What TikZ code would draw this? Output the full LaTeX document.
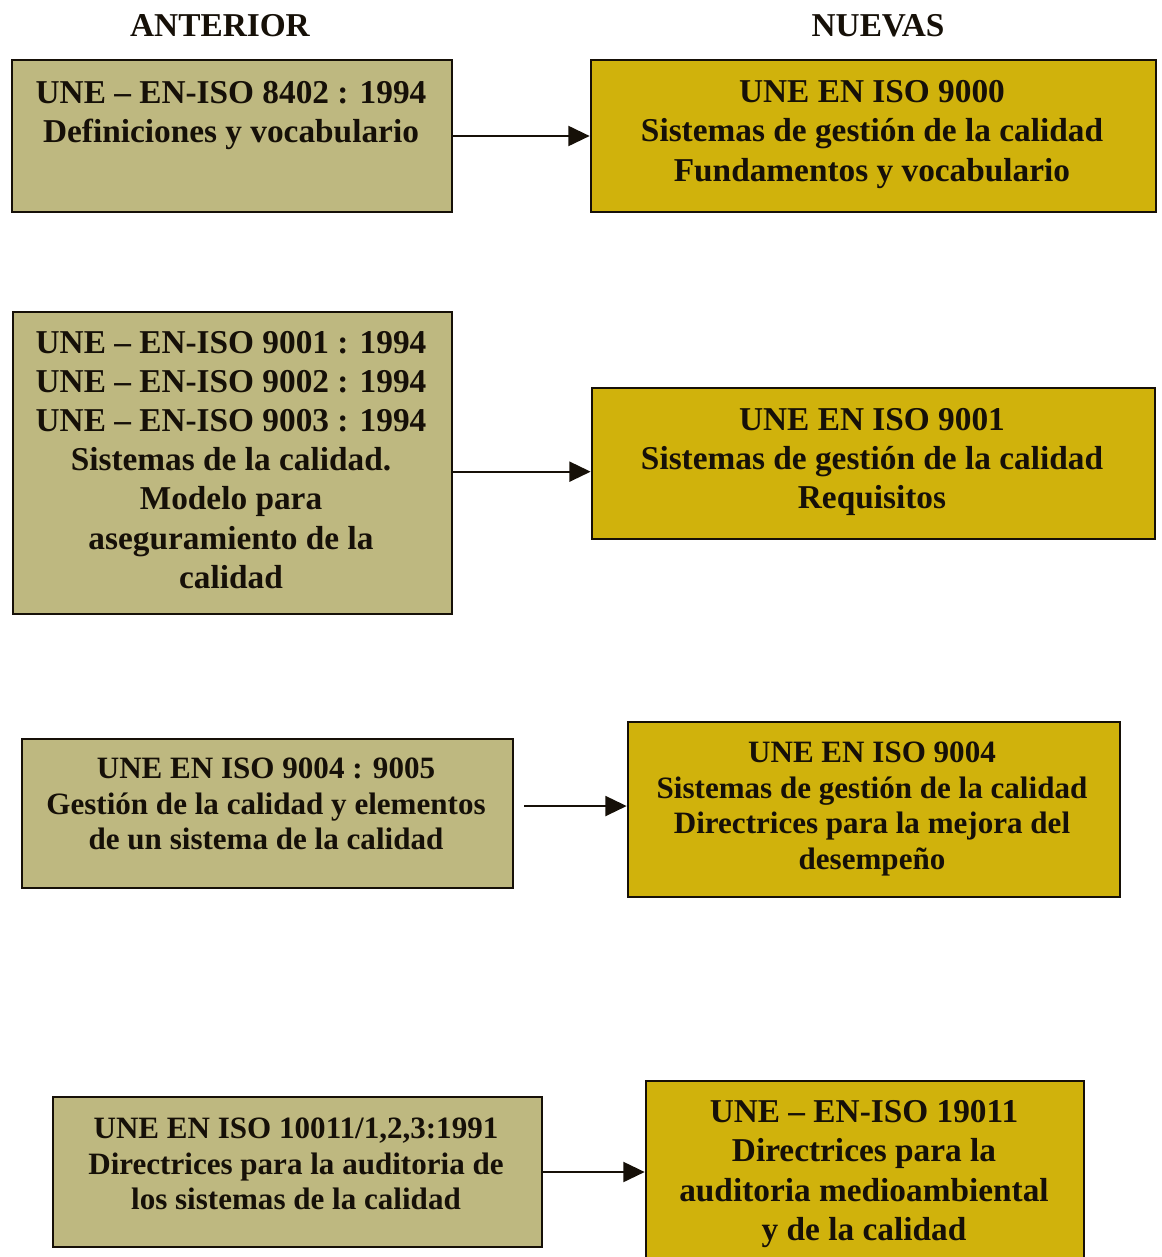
\documentclass[tikz,border=0pt]{standalone}
\usepackage{fontspec}
\setmainfont{Liberation Serif}
\usetikzlibrary{arrows.meta,fit}
\definecolor{oldfill}{RGB}{190,184,128}
\definecolor{newfill}{RGB}{208,178,12}
\definecolor{ink}{RGB}{22,16,8}
\begin{document}
\begin{tikzpicture}[x=0.75pt,y=-0.75pt,
  box/.style={draw=ink,line width=2pt,inner sep=0pt},
  oldbox/.style={box,fill=oldfill},
  newbox/.style={box,fill=newfill},
  big/.style={text=ink,align=center,inner sep=0pt,
    font=\bfseries\fontsize{25}{29.3}\selectfont},
  small/.style={text=ink,align=center,inner sep=0pt,
    font=\bfseries\fontsize{23.3}{26.6}\selectfont},
  arr/.style={draw=ink,line width=1.6pt,-{Triangle[length=16pt,width=15pt]}}]
\useasboundingbox (0,0) rectangle (1162,1257);
\clip (0,0) rectangle (1162,1257);

% column headings
\node[big] (hOld) at (220,26) {ANTERIOR};
\node[big] (hNew) at (878,26) {NUEVAS};

% boxes
\node[oldbox,fit={(12,60)(452,212)}]   (L1) {};
\node[newbox,fit={(591,60)(1156,212)}] (R1) {};
\node[oldbox,fit={(13,312)(452,614)}]  (L2) {};
\node[newbox,fit={(592,388)(1155,539)}] (R2) {};
\node[oldbox,fit={(22,739)(513,888)}]  (L3) {};
\node[newbox,fit={(628,722)(1120,897)}] (R3) {};
\node[oldbox,fit={(53,1097)(542,1247)}] (L4) {};
\node[newbox,fit={(646,1081)(1084,1266)}] (R4) {};

% texts
\node[big] (tL1) at (231,115.5) {UNE -- EN-ISO 8402 : 1994\\Definiciones y vocabulario};
\node[big] (tR1) at (872,134.5) {UNE EN ISO 9000\\Sistemas de gestión de la calidad\\Fundamentos y vocabulario};
\node[big] (tL2) at (231,460) {UNE -- EN-ISO 9001 : 1994\\UNE -- EN-ISO 9002 : 1994\\UNE -- EN-ISO 9003 : 1994\\Sistemas de la calidad.\\Modelo para\\aseguramiento de la\\calidad};
\node[big] (tR2) at (872,462) {UNE EN ISO 9001\\Sistemas de gestión de la calidad\\Requisitos};
\node[small] (tL3) at (266,804) {UNE EN ISO 9004 : 9005\\Gestión de la calidad y elementos\\de un sistema de la calidad};
\node[small] (tR3) at (872,809) {UNE EN ISO 9004\\Sistemas de gestión de la calidad\\Directrices para la mejora del\\desempeño};
\node[small] (tL4) at (296,1164) {UNE EN ISO 10011/1,2,3:1991\\Directrices para la auditoria de\\los sistemas de la calidad};
\node[big] (tR4) at (864,1174) {UNE -- EN-ISO 19011\\Directrices para la\\auditoria medioambiental\\y de la calidad};

% connectors
\draw[arr] (L1.east) -- (R1.west);
\draw[arr] ([yshift=-6.5pt]L2.east) -- ([yshift=-6.5pt]L2.east -| R2.west);
\draw[arr,shorten <=7.5pt] ([yshift=5.6pt]L3.east) -- ([yshift=5.6pt]L3.east -| R3.west);
\draw[arr] (L4.east) -- (L4.east -| R4.west);
\end{tikzpicture}
\end{document}
